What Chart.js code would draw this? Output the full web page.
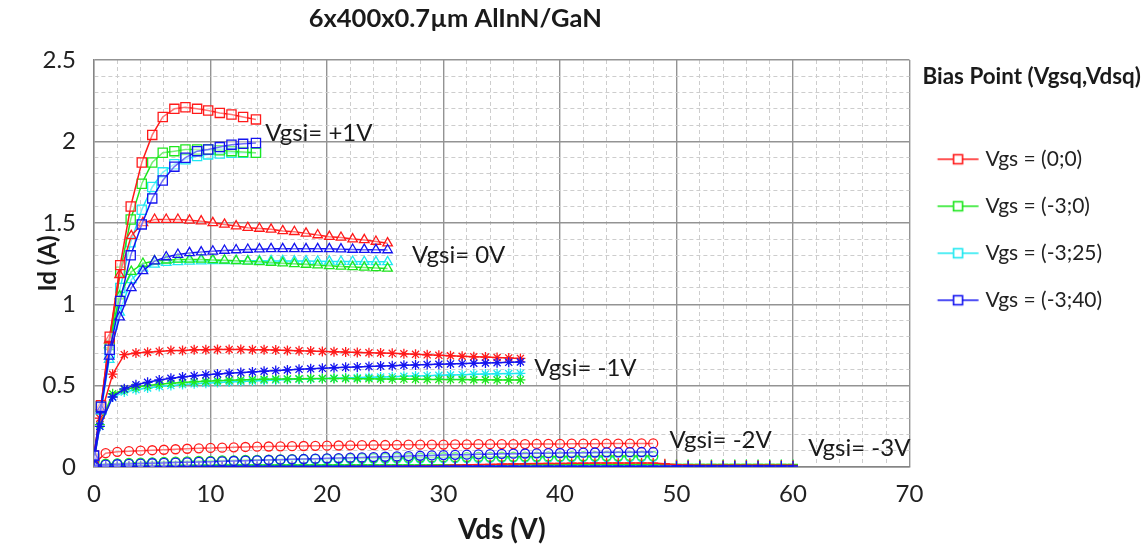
<!DOCTYPE html>
<html>
<head>
<meta charset="utf-8">
<title>6x400x0.7µm AlInN/GaN</title>
<script src="https://cdn.jsdelivr.net/npm/chart.js@4.4.1/dist/chart.umd.min.js"></script>
<style>
  html, body { margin: 0; padding: 0; background: #ffffff; }
  #wrap { width: 1142px; height: 549px; }
</style>
</head>
<body>
<div id="wrap"><canvas id="ivChart" width="1142" height="549"></canvas></div>
<script>
// Titulos y etiquetas
const chartTitle = '6x400x0.7µm AlInN/GaN';
const xTitle = 'Vds (V)';
const yTitle = 'Id (A)';
const legendTitle = 'Bias Point (Vgsq,Vdsq)';
const biasLabels = ['Vgs = (0;0)', 'Vgs = (-3;0)', 'Vgs = (-3;25)', 'Vgs = (-3;40)'];
const vgsiLabels = ['Vgsi= +1V', 'Vgsi= 0V', 'Vgsi= -1V', 'Vgsi= -2V', 'Vgsi= -3V'];

// Vgsi = +1V
const vdsP1 = [0, 0.6, 1.35, 2.25, 3.15, 4.1, 5.0, 5.9, 6.9, 7.85, 8.85, 9.8, 10.8, 11.8, 12.8, 13.9];
const idP1_00  = [0.07, 0.38, 0.80, 1.24, 1.60, 1.87, 2.04, 2.15, 2.20, 2.21, 2.20, 2.19, 2.175, 2.165, 2.15, 2.135];
const idP1_30  = [0.05, 0.37, 0.75, 1.20, 1.52, 1.74, 1.87, 1.93, 1.94, 1.95, 1.95, 1.95, 1.945, 1.94, 1.935, 1.93];
const idP1_325 = [0.05, 0.36, 0.70, 1.10, 1.38, 1.58, 1.72, 1.81, 1.86, 1.89, 1.91, 1.92, 1.925, 1.93, 1.93, 1.93];
const idP1_340 = [0.07, 0.37, 0.72, 1.02, 1.30, 1.49, 1.65, 1.76, 1.845, 1.90, 1.94, 1.95, 1.965, 1.98, 1.985, 1.99];

// Vgsi = 0V
const vds0 = [0, 0.6, 1.3, 2.2, 3.2, 4.2, 5.2, 6.2, 7.2, 8.2, 9.2, 10.2, 11.2, 12.2, 13.2, 14.2,
  15.2, 16.2, 17.2, 18.2, 19.2, 20.2, 21.2, 22.2, 23.2, 24.2, 25.2];
const id0_00  = [0.07, 0.37, 0.78, 1.18, 1.42, 1.50, 1.52, 1.52, 1.52, 1.515, 1.51, 1.50, 1.49, 1.48,
  1.47, 1.465, 1.46, 1.45, 1.445, 1.435, 1.425, 1.415, 1.41, 1.40, 1.395, 1.385, 1.375];
const id0_30  = [0.05, 0.36, 0.75, 1.05, 1.20, 1.25, 1.265, 1.27, 1.275, 1.275, 1.275, 1.272, 1.27, 1.267,
  1.263, 1.26, 1.256, 1.252, 1.248, 1.244, 1.24, 1.236, 1.232, 1.229, 1.226, 1.223, 1.22];
const id0_325 = [0.05, 0.34, 0.66, 0.95, 1.15, 1.22, 1.245, 1.255, 1.26, 1.263, 1.265, 1.266, 1.267, 1.267,
  1.267, 1.267, 1.266, 1.266, 1.265, 1.265, 1.264, 1.263, 1.262, 1.262, 1.261, 1.26, 1.26];
const id0_340 = [0.06, 0.35, 0.68, 0.92, 1.10, 1.205, 1.265, 1.29, 1.305, 1.315, 1.32, 1.325, 1.33, 1.333,
  1.336, 1.338, 1.34, 1.34, 1.34, 1.34, 1.34, 1.34, 1.338, 1.336, 1.335, 1.334, 1.333];

// Vgsi = -1V
const vdsM1 = [0, 0.5, 1.6, 2.6, 3.6, 4.6, 5.6, 6.6, 7.6, 8.6, 9.6, 10.6, 11.6, 12.6, 13.6, 14.6, 15.6,
  16.6, 17.6, 18.6, 19.6, 20.6, 21.6, 22.6, 23.6, 24.6, 25.6, 26.6, 27.6, 28.6, 29.6, 30.6, 31.6, 32.6,
  33.6, 34.6, 35.6, 36.6];
const idM1_00  = [0.05, 0.30, 0.57, 0.69, 0.70, 0.705, 0.71, 0.715, 0.715, 0.72, 0.72, 0.722, 0.722, 0.722,
  0.72, 0.72, 0.718, 0.716, 0.714, 0.712, 0.71, 0.708, 0.706, 0.704, 0.702, 0.70, 0.698, 0.695, 0.692,
  0.689, 0.686, 0.683, 0.68, 0.677, 0.675, 0.672, 0.67, 0.667];
const idM1_30  = [0.04, 0.26, 0.45, 0.475, 0.49, 0.50, 0.508, 0.514, 0.519, 0.523, 0.527, 0.53, 0.533, 0.535,
  0.537, 0.539, 0.54, 0.541, 0.542, 0.543, 0.543, 0.543, 0.543, 0.542, 0.542, 0.541, 0.54, 0.54, 0.539,
  0.538, 0.538, 0.537, 0.537, 0.536, 0.536, 0.535, 0.535, 0.535];
const idM1_325 = [0.04, 0.25, 0.43, 0.46, 0.475, 0.485, 0.495, 0.50, 0.506, 0.511, 0.515, 0.519, 0.522, 0.525,
  0.528, 0.531, 0.534, 0.537, 0.539, 0.541, 0.543, 0.545, 0.547, 0.549, 0.551, 0.553, 0.555, 0.557, 0.559,
  0.561, 0.563, 0.565, 0.567, 0.569, 0.571, 0.573, 0.574, 0.575];
const idM1_340 = [0.04, 0.25, 0.43, 0.48, 0.505, 0.52, 0.535, 0.545, 0.553, 0.56, 0.566, 0.571, 0.576, 0.58,
  0.584, 0.588, 0.592, 0.596, 0.60, 0.603, 0.606, 0.609, 0.612, 0.615, 0.618, 0.62, 0.622, 0.625, 0.627,
  0.629, 0.631, 0.633, 0.635, 0.637, 0.639, 0.641, 0.643, 0.645];

// Vgsi = -2V
const vdsM2 = [0, 1, 2, 3, 4, 5, 6, 7, 8, 9, 10, 11, 12, 13, 14, 15, 16, 17, 18, 19, 20, 21, 22, 23, 24,
  25, 26, 27, 28, 29, 30, 31, 32, 33, 34, 35, 36, 37, 38, 39, 40, 41, 42, 43, 44, 45, 46, 47, 48];
const idM2_00  = [0.02, 0.085, 0.093, 0.097, 0.10, 0.103, 0.106, 0.109, 0.112, 0.115, 0.117, 0.119, 0.121,
  0.123, 0.125, 0.126, 0.127, 0.128, 0.129, 0.13, 0.131, 0.132, 0.133, 0.134, 0.135, 0.135, 0.136, 0.137,
  0.137, 0.138, 0.138, 0.139, 0.139, 0.14, 0.14, 0.141, 0.141, 0.141, 0.142, 0.142, 0.142, 0.143, 0.143,
  0.143, 0.144, 0.144, 0.144, 0.145, 0.145];
const idM2_30  = [0.01, 0.02, 0.022, 0.025, 0.027, 0.029, 0.031, 0.033, 0.035, 0.037, 0.038, 0.04, 0.041,
  0.043, 0.044, 0.045, 0.047, 0.048, 0.049, 0.05, 0.051, 0.052, 0.053, 0.054, 0.055, 0.056, 0.057, 0.057,
  0.058, 0.059, 0.06, 0.06, 0.061, 0.062, 0.062, 0.063, 0.063, 0.064, 0.064, 0.065, 0.065, 0.066, 0.066,
  0.067, 0.067, 0.067, 0.068, 0.068, 0.068];
const idM2_325 = [0.01, 0.018, 0.02, 0.022, 0.024, 0.026, 0.028, 0.03, 0.032, 0.033, 0.035, 0.036, 0.038,
  0.039, 0.04, 0.041, 0.042, 0.043, 0.044, 0.045, 0.046, 0.047, 0.048, 0.049, 0.05, 0.05, 0.051, 0.052,
  0.052, 0.053, 0.054, 0.054, 0.055, 0.055, 0.056, 0.056, 0.057, 0.057, 0.058, 0.058, 0.059, 0.059, 0.06,
  0.06, 0.06, 0.061, 0.061, 0.061, 0.062];
const idM2_340 = [0.01, 0.015, 0.017, 0.019, 0.021, 0.023, 0.025, 0.027, 0.029, 0.031, 0.033, 0.035, 0.037,
  0.039, 0.041, 0.043, 0.045, 0.047, 0.049, 0.051, 0.053, 0.055, 0.057, 0.059, 0.061, 0.063, 0.065, 0.067,
  0.069, 0.071, 0.073, 0.075, 0.076, 0.078, 0.079, 0.081, 0.082, 0.083, 0.084, 0.085, 0.086, 0.087, 0.088,
  0.089, 0.09, 0.09, 0.091, 0.092, 0.092];

// Vgsi = -3V
const vdsM3 = [0, 1, 2, 3, 4, 5, 6, 7, 8, 9, 10, 11, 12, 13, 14, 15, 16, 17, 18, 19, 20, 21, 22, 23, 24,
  25, 26, 27, 28, 29, 30, 31, 32, 33, 34, 35, 36, 37, 38, 39, 40, 41, 42, 43, 44, 45, 46, 47, 48, 49, 50,
  51, 52, 53, 54, 55, 56, 57, 58, 59, 60];
const idM3_00  = [0.004, 0.002, 0.002, 0.002, 0.002, 0.002, 0.002, 0.002, 0.002, 0.002,
  0.002, 0.002, 0.002, 0.002, 0.002, 0.002, 0.002, 0.002, 0.002, 0.002,
  0.002, 0.002, 0.003, 0.003, 0.003, 0.004, 0.004, 0.005, 0.006, 0.007,
  0.009, 0.011, 0.013, 0.015, 0.016, 0.018, 0.019, 0.02, 0.021, 0.022,
  0.022, 0.023, 0.023, 0.024, 0.024, 0.024, 0.024, 0.024, 0.024, 0.02,
  0.014, 0.011, 0.01, 0.01, 0.01, 0.01, 0.01, 0.01, 0.01, 0.01, 0.01];
const idM3_30  = [0.005, 0.008, 0.009, 0.009, 0.01, 0.01, 0.01, 0.011, 0.011, 0.011,
  0.012, 0.012, 0.012, 0.012, 0.012, 0.012, 0.012, 0.012, 0.012, 0.012,
  0.013, 0.013, 0.013, 0.013, 0.013, 0.013, 0.013, 0.013, 0.013, 0.013,
  0.014, 0.014, 0.014, 0.014, 0.014, 0.014, 0.014, 0.014, 0.014, 0.014,
  0.015, 0.015, 0.015, 0.015, 0.015, 0.015, 0.015, 0.015, 0.015, 0.015,
  0.016, 0.016, 0.016, 0.016, 0.016, 0.016, 0.016, 0.016, 0.016, 0.016, 0.016];
const idM3_325 = [0.005, 0.007, 0.008, 0.008, 0.008, 0.009, 0.009, 0.009, 0.009, 0.01,
  0.01, 0.01, 0.01, 0.01, 0.01, 0.01, 0.01, 0.01, 0.01, 0.01,
  0.011, 0.011, 0.011, 0.011, 0.011, 0.011, 0.011, 0.011, 0.011, 0.011,
  0.012, 0.012, 0.012, 0.012, 0.012, 0.012, 0.012, 0.012, 0.012, 0.012,
  0.013, 0.013, 0.013, 0.013, 0.013, 0.013, 0.013, 0.013, 0.013, 0.013,
  0.014, 0.014, 0.014, 0.014, 0.014, 0.014, 0.014, 0.014, 0.014, 0.014, 0.014];
const idM3_340 = [0.006, 0.004, 0.004, 0.004, 0.004, 0.004, 0.004, 0.004, 0.004, 0.004,
  0.004, 0.004, 0.004, 0.004, 0.004, 0.004, 0.004, 0.004, 0.004, 0.004,
  0.004, 0.004, 0.004, 0.004, 0.004, 0.004, 0.004, 0.004, 0.004, 0.004,
  0.005, 0.005, 0.005, 0.005, 0.005, 0.005, 0.005, 0.005, 0.005, 0.005,
  0.005, 0.005, 0.005, 0.005, 0.005, 0.005, 0.005, 0.005, 0.005, 0.005,
  0.006, 0.006, 0.006, 0.006, 0.006, 0.006, 0.006, 0.006, 0.006, 0.006, 0.006];

const groups = [
  { vds: vdsP1, ids: [idP1_00, idP1_30, idP1_325, idP1_340] },
  { vds: vds0,  ids: [id0_00, id0_30, id0_325, id0_340] },
  { vds: vdsM1, ids: [idM1_00, idM1_30, idM1_325, idM1_340] },
  { vds: vdsM2, ids: [idM2_00, idM2_30, idM2_325, idM2_340] },
  { vds: vdsM3, ids: [idM3_00, idM3_30, idM3_325, idM3_340] }
];

// Estilos
const fontFamily = "Lato, 'Open Sans', sans-serif";
const biasColors = ['#ff1a1a', '#1ee61e', '#1ee8f0', '#1414f0'];
const drawOrder = [1, 2, 3, 0];
const markerStyles = ['rect', 'triangle', 'star', 'circle', 'cross'];
const markerRadius = [6.5, 5.5, 5, 4.5, 5];
// anclas de las etiquetas Vgsi (en unidades de los ejes)
const vgsiAnchors = [[14.7, 2.05], [27.3, 1.30], [37.8, 0.605], [49.4, 0.165], [61.3, 0.115]];

Chart.defaults.font.family = fontFamily;
Chart.defaults.color = '#222222';

const datasets = [];
groups.forEach((g, gi) => {
  g.ids.forEach((ids, bi) => {
    datasets.push({
      label: biasLabels[bi] + ' ' + vgsiLabels[gi],
      data: g.vds.map((v, k) => ({ x: v, y: ids[k] })),
      showLine: true,
      borderColor: biasColors[bi],
      borderWidth: 1.5,
      pointStyle: markerStyles[gi],
      pointRadius: markerRadius[gi],
      pointBorderWidth: 1.3,
      pointBorderColor: biasColors[bi],
      pointBackgroundColor: 'rgba(255,255,255,0.4)',
      order: drawOrder[bi],
      tension: 0
    });
  });
});

// icono de leyenda: linea con cuadrado
function legendIcon(color) {
  const c = document.createElement('canvas');
  c.width = 60;
  c.height = 14;
  const g = c.getContext('2d');
  g.strokeStyle = color;
  g.lineWidth = 1.6;
  g.beginPath();
  g.moveTo(5.75, 7);
  g.lineTo(46.75, 7);
  g.stroke();
  g.fillStyle = '#ffffff';
  g.fillRect(21.75, 2.5, 9, 9);
  g.strokeRect(21.75, 2.5, 9, 9);
  return c;
}
const legendIcons = biasColors.map(legendIcon);

const isMajorX = v => Math.abs(v % 10) < 1e-6;
const isMajorY = v => Math.abs(v * 2 - Math.round(v * 2)) < 1e-6;

// titulo general y encabezado de la leyenda (el encabezado sobresale de la caja de la leyenda)
const titlePlugin = {
  id: 'topTitle',
  afterDraw(chart) {
    const { ctx, chartArea, legend } = chart;
    ctx.save();
    ctx.font = 'bold 25.5px ' + fontFamily;
    ctx.fillStyle = '#1a1a1a';
    ctx.textAlign = 'center';
    ctx.textBaseline = 'middle';
    ctx.fillText(chartTitle, chartArea.left + (chartArea.right - chartArea.left) * 0.443, 19);
    ctx.font = 'bold 22.4px ' + fontFamily;
    ctx.textAlign = 'left';
    ctx.fillText(legendTitle, legend.left, legend.top + 17);
    ctx.restore();
  }
};

const vgsiPlugin = {
  id: 'vgsiLabels',
  afterDatasetsDraw(chart) {
    const { ctx, scales } = chart;
    ctx.save();
    ctx.font = '24px ' + fontFamily;
    ctx.fillStyle = '#1a1a1a';
    ctx.textAlign = 'left';
    ctx.textBaseline = 'middle';
    vgsiLabels.forEach((t, i) => {
      ctx.fillText(t, scales.x.getPixelForValue(vgsiAnchors[i][0]), scales.y.getPixelForValue(vgsiAnchors[i][1]));
    });
    ctx.restore();
  }
};

const ctx = document.getElementById('ivChart').getContext('2d');
new Chart(ctx, {
  type: 'scatter',
  data: { datasets: datasets },
  options: {
    responsive: false,
    animation: false,
    layout: { padding: { top: 60, left: 10, right: 37, bottom: 0 } },
    plugins: {
      tooltip: { enabled: false },
      legend: {
        position: 'right',
        align: 'start',
        onClick: null,
        // espacio reservado para el encabezado que dibuja titlePlugin
        title: {
          display: true,
          text: ' ',
          position: 'start',
          font: { size: 21, weight: 'bold' },
          padding: { top: 4.5, bottom: 33 }
        },
        labels: {
          usePointStyle: true,
          pointStyleWidth: 26.5,
          padding: 26,
          color: '#1a1a1a',
          font: { size: 21 },
          generateLabels: () => biasLabels.map((t, i) => ({
            text: t,
            pointStyle: legendIcons[i],
            fillStyle: biasColors[i],
            strokeStyle: biasColors[i],
            lineWidth: 0,
            hidden: false,
            datasetIndex: i
          }))
        }
      }
    },
    scales: {
      x: {
        type: 'linear',
        min: 0,
        max: 70,
        afterFit: s => { s.height = 82; },
        ticks: {
          stepSize: 2,
          autoSkip: false,
          maxRotation: 0,
          padding: 12.6,
          color: '#222222',
          font: { size: 24 },
          callback: v => (isMajorX(v) ? String(v) : '')
        },
        grid: {
          drawTicks: false,
          color: c => (isMajorX(c.tick.value) ? '#939393' : '#cdcdcd'),
          lineWidth: c => (isMajorX(c.tick.value) ? 1.4 : 1)
        },
        border: {
          color: '#858585',
          width: 1.4,
          dash: c => (c.tick && !isMajorX(c.tick.value) ? [4, 3] : [])
        },
        title: {
          display: true,
          text: xTitle,
          color: '#1a1a1a',
          font: { size: 28, weight: 'bold' },
          padding: { top: 0, bottom: 2 }
        }
      },
      y: {
        type: 'linear',
        min: 0,
        max: 2.5,
        afterFit: s => { s.width = 84; },
        ticks: {
          stepSize: 0.1,
          autoSkip: false,
          padding: 18,
          color: '#222222',
          font: { size: 24 },
          callback: v => {
            const r = Math.round(v * 10) / 10;
            return isMajorY(r) ? String(r) : '';
          }
        },
        grid: {
          drawTicks: false,
          color: c => (isMajorY(c.tick.value) ? '#939393' : '#cdcdcd'),
          lineWidth: c => (isMajorY(c.tick.value) ? 1.4 : 1)
        },
        border: {
          color: '#858585',
          width: 1.4,
          dash: c => (c.tick && !isMajorY(c.tick.value) ? [4, 3] : [])
        },
        title: {
          display: true,
          text: yTitle,
          color: '#1a1a1a',
          font: { size: 24, weight: 'bold' },
          padding: { top: 24, bottom: 0 }
        }
      },
      // hueco en blanco entre el area de trazado y la leyenda
      gap: {
        type: 'linear',
        position: 'right',
        display: true,
        afterFit: s => { s.width = 13; },
        grid: { display: false, drawOnChartArea: false },
        border: { display: false },
        ticks: { display: false }
      }
    }
  },
  plugins: [titlePlugin, vgsiPlugin]
});
</script>
</body>
</html>
